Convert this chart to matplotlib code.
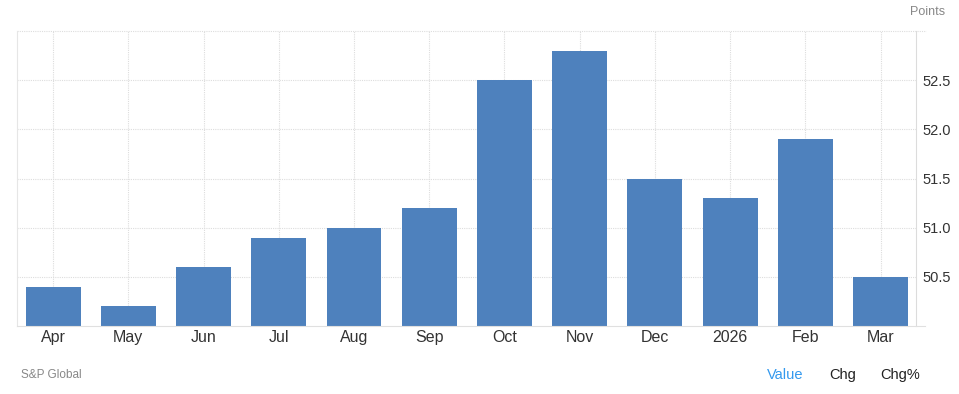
import matplotlib
matplotlib.use("Agg")
import matplotlib.pyplot as plt
import numpy as np

plt.rcParams['font.family'] = ['Liberation Sans', 'DejaVu Sans']

categories = ["Apr", "May", "Jun", "Jul", "Aug", "Sep", "Oct", "Nov", "Dec", "2026", "Feb", "Mar"]
values = [50.4, 50.2, 50.6, 50.9, 51.0, 51.2, 52.5, 52.8, 51.5, 51.3, 51.9, 50.5]
yticks = [50.5, 51.0, 51.5, 52.0, 52.5]

W, H = 959, 394
fig = plt.figure(figsize=(W/100, H/100), dpi=100)
ax = fig.add_axes([17/W, (H-326)/H, (916-17)/W, (326-31)/H])

x = np.arange(len(categories))
ax.bar(x, values, width=0.73, bottom=0, color="#4e81bd", zorder=2)
ax.set_ylim(50.0, 53.0)
ax.set_xlim(-0.48, len(categories) - 0.53)

ax.set_xticks(x)
ax.set_xticklabels(categories, fontsize=11.5, color="#333333")
ax.set_yticks(yticks)
ax.set_yticklabels([f"{v:.1f}" for v in yticks], fontsize=10.5, color="#333333")
ax.yaxis.tick_right()
ax.tick_params(axis='both', length=0)
ax.tick_params(axis='x', pad=3)
ax.tick_params(axis='y', pad=5)

ax.grid(True, color="#dddddd", linestyle=(0, (1, 1)), linewidth=0.8, zorder=0)
# top grid line at 53.0, extending slightly past the right axis
ax.plot([0.0, 1.011], [53.0, 53.0], transform=ax.get_yaxis_transform(), color="#dddddd",
        linestyle=(0, (1, 1)), linewidth=0.8, clip_on=False, zorder=0)

ax.spines['top'].set_visible(False)
ax.spines['left'].set_color("#e6e6e6")
ax.spines['right'].set_color("#dcdcdc")
ax.spines['bottom'].set_color("#e0e0e0")
ax.spines['bottom'].set_bounds(-0.48, len(categories) - 0.41)

fig.text(945/W, 1 - 12/H, "Points", fontsize=9, color="#888888", ha="right", va="center")
fig.text(21/W, 1 - 375/H, "S&P Global", fontsize=8.5, color="#888888", ha="left", va="center")
fig.text(767/W, 1 - 375/H, "Value", fontsize=10.5, color="#3399ee", ha="left", va="center")
fig.text(829/W, 1 - 375/H, "Chg", fontsize=10.5, color="#222222", ha="left", va="center")
fig.text(880/W, 1 - 375/H, "Chg%", fontsize=10.5, color="#222222", ha="left", va="center")

fig.savefig("out.png", dpi=100, facecolor="white")
